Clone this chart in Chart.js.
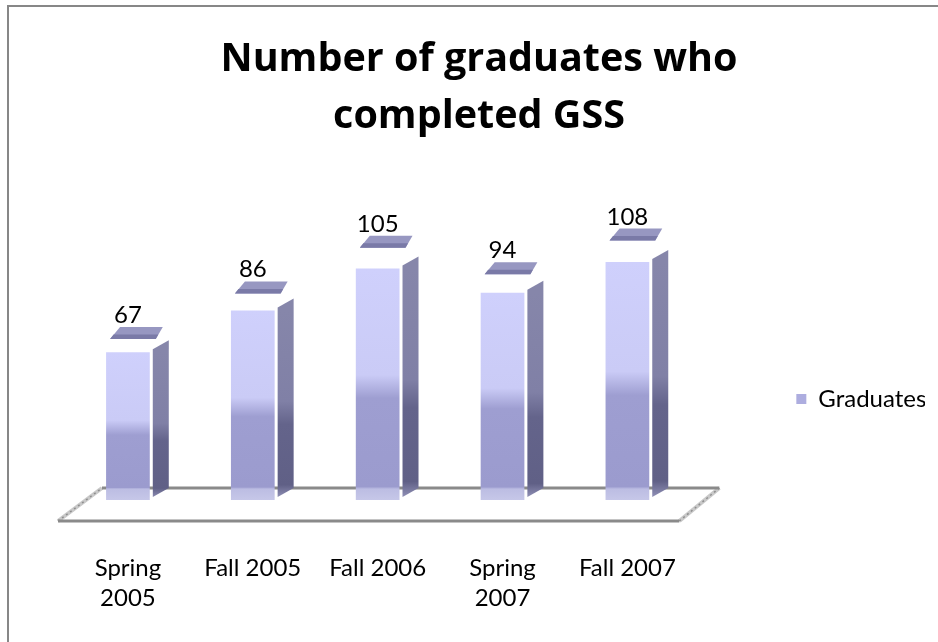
<!DOCTYPE html>
<html>
<head>
<meta charset="utf-8">
<script src="https://cdn.jsdelivr.net/npm/chart.js@4.4.1/dist/chart.umd.min.js"></script>
<style>
  html, body { margin: 0; padding: 0; background: #ffffff; }
  #wrap { position: relative; width: 938px; height: 642px; }
</style>
</head>
<body>
<div id="wrap"><canvas id="c" width="938" height="642"></canvas></div>
<script>
// ---- data ----
const categories = [['Spring', '2005'], 'Fall 2005', 'Fall 2006', ['Spring', '2007'], 'Fall 2007'];
const seriesName = 'Graduates';
const graduates = [67, 86, 105, 94, 108];
const titleLines = ['Number of graduates who', 'completed GSS'];
const yMin = 0;
const yMax = 120;

const FONT = 'Lato, "Open Sans", "Noto Sans", sans-serif';
const TITLE_FONT = '"Open Sans", Lato, "Noto Sans", sans-serif';

function frontGradient(ctx, top, base) {
  const h = Math.max(1, base - top);
  const g = ctx.createLinearGradient(0, top, 0, base);
  const floorF = Math.max(0, Math.min(1, (h - 11) / h));
  g.addColorStop(0, '#CFD0FC');
  g.addColorStop(0.46, '#CACBF6');
  g.addColorStop(0.56, '#9E9ED1');
  g.addColorStop(Math.max(0.57, floorF - 0.01), '#9B9BCE');
  g.addColorStop(Math.max(0.58, floorF), '#BCBDE3');
  g.addColorStop(1, '#C6C7E8');
  return g;
}

const bar3d = {
  id: 'bar3d',
  beforeDraw(chart) {
    const c = chart.ctx;
    c.save();
    c.fillStyle = '#ffffff';
    c.fillRect(0, 0, chart.width, chart.height);
    c.strokeStyle = '#878787';
    c.lineWidth = 2;
    c.beginPath();
    c.moveTo(8, chart.height);
    c.lineTo(8, 6);
    c.lineTo(chart.width, 6);
    c.stroke();
    c.restore();
  },
  beforeDatasetsDraw(chart) {
    const c = chart.ctx;
    const {left, right} = chart.chartArea;
    const base0 = chart.scales.y.getPixelForValue(0);
    const backY = base0 - 12, frontY = base0 + 21;
    const bl = left + 36.5, br = right + 29.5, fl = left - 7.5, fr = right - 10.5;
    c.save();
    c.lineCap = 'butt';
    c.strokeStyle = '#c9c9c9';
    c.lineWidth = 4;
    c.beginPath();
    c.moveTo(fl, frontY); c.lineTo(bl, backY);
    c.moveTo(fr, frontY); c.lineTo(br, backY);
    c.stroke();
    c.strokeStyle = '#8e8e8e';
    c.lineWidth = 1.5;
    c.setLineDash([2, 3]);
    c.beginPath();
    c.moveTo(fl, frontY); c.lineTo(bl, backY);
    c.moveTo(fr, frontY); c.lineTo(br, backY);
    c.stroke();
    c.setLineDash([]);
    c.strokeStyle = '#8a8a8a';
    c.lineWidth = 3;
    c.beginPath();
    c.moveTo(bl, backY); c.lineTo(br, backY);
    c.moveTo(fl, frontY); c.lineTo(fr, frontY);
    c.stroke();
    c.restore();
  },
  afterDatasetsDraw(chart) {
    const c = chart.ctx;
    const meta = chart.getDatasetMeta(0);
    const ds = chart.data.datasets[0];
    c.save();
    meta.data.forEach((el, i) => {
      const p = el.getProps(['x', 'y', 'base', 'width'], true);
      const x = p.x, y = p.y, base = p.base, w = p.width;
      const sl = x + w / 2 + 3, sr = sl + 16;
      const sg = c.createLinearGradient(0, y, 0, base);
      sg.addColorStop(0, '#8686AA');
      sg.addColorStop(0.48, '#8080A6');
      sg.addColorStop(0.6, '#64648B');
      sg.addColorStop(0.92, '#606086');
      sg.addColorStop(1, '#9a9ac0');
      c.fillStyle = sg;
      c.beginPath();
      c.moveTo(sl, y - 3);
      c.lineTo(sr, y - 12);
      c.lineTo(sr, base - 12);
      c.lineTo(sl, base - 3);
      c.closePath();
      c.fill();
      const gap = 0.09 * (base - y);
      const cb = y - gap, ct = cb - 12;
      c.fillStyle = '#9797C1';
      c.beginPath();
      c.moveTo(x - w / 2 + 4, cb);
      c.lineTo(x + w / 2 + 6, cb);
      c.lineTo(x + w / 2 + 13, ct);
      c.lineTo(x - w / 2 + 14, ct);
      c.closePath();
      c.fill();
      c.fillStyle = '#7A7AA7';
      c.beginPath();
      c.moveTo(x - w / 2 + 4, cb);
      c.lineTo(x + w / 2 + 6, cb);
      c.lineTo(x + w / 2 + 8.5, cb - 4.5);
      c.lineTo(x - w / 2 + 7.5, cb - 4.5);
      c.closePath();
      c.fill();
      c.fillStyle = '#000000';
      c.font = '24px ' + FONT;
      c.textAlign = 'center';
      c.textBaseline = 'alphabetic';
      c.fillText(String(ds.data[i]), x, ct - 4);
    });
    c.restore();
  }
};

const chart = new Chart(document.getElementById('c'), {
  type: 'bar',
  data: {
    labels: categories,
    datasets: [{
      label: seriesName,
      data: graduates,
      backgroundColor: (ctx) => {
        const ch = ctx.chart;
        const ys = ch.scales && ch.scales.y;
        if (!ys || ctx.raw == null || !ch.chartArea) return '#B4B5E6';
        return frontGradient(ch.ctx, ys.getPixelForValue(ctx.raw), ys.getPixelForValue(0));
      },
      borderWidth: 0,
      barPercentage: 0.35,
      categoryPercentage: 1.0
    }]
  },
  options: {
    responsive: false,
    animation: false,
    events: [],
    layout: { padding: { left: 33, right: 13, top: 0, bottom: 0 } },
    plugins: {
      tooltip: { enabled: false },
      title: {
        display: true,
        text: titleLines,
        color: '#000000',
        font: { family: TITLE_FONT, size: 39.5, weight: 'bold', lineHeight: 57.5 / 39.5 },
        padding: { top: 30.5, bottom: 90 }
      },
      legend: {
        display: true,
        position: 'right',
        align: 'center',
        title: { display: true, text: '', font: { size: 12, lineHeight: 1 }, padding: { top: 0, bottom: 144 } },
        labels: {
          color: '#000000',
          font: { family: FONT, size: 24 },
          boxWidth: 10,
          boxHeight: 10,
          padding: 20,
          generateLabels: (ch) => {
            const items = Chart.defaults.plugins.legend.labels.generateLabels(ch);
            items.forEach(it => { it.fillStyle = '#ADADDF'; it.strokeStyle = '#ADADDF'; it.lineWidth = 0; });
            return items;
          }
        }
      }
    },
    scales: {
      x: {
        type: 'category',
        offset: true,
        grid: { display: false, drawTicks: false },
        border: { display: false },
        ticks: {
          color: '#000000',
          font: { family: FONT, size: 24, lineHeight: 1.25 },
          padding: 53.4,
          autoSkip: false,
          maxRotation: 0,
          minRotation: 0
        },
        afterFit: (s) => { s.height = 142; }
      },
      y: {
        type: 'linear',
        position: 'left',
        min: yMin,
        max: yMax,
        grid: { display: false, drawTicks: false },
        border: { display: false },
        ticks: { display: false },
        afterFit: (s) => { s.width = 32.5; }
      },
      y2: {
        type: 'linear',
        position: 'right',
        grid: { display: false, drawTicks: false },
        border: { display: false },
        ticks: { display: false },
        afterFit: (s) => { s.width = 86.5; }
      }
    }
  },
  plugins: [bar3d]
});

if (document.fonts && document.fonts.load) {
  Promise.all([
    document.fonts.load('24px Lato'),
    document.fonts.load('bold 40px "Open Sans"')
  ]).then(() => chart.update(), () => chart.update());
}
</script>
</body>
</html>
